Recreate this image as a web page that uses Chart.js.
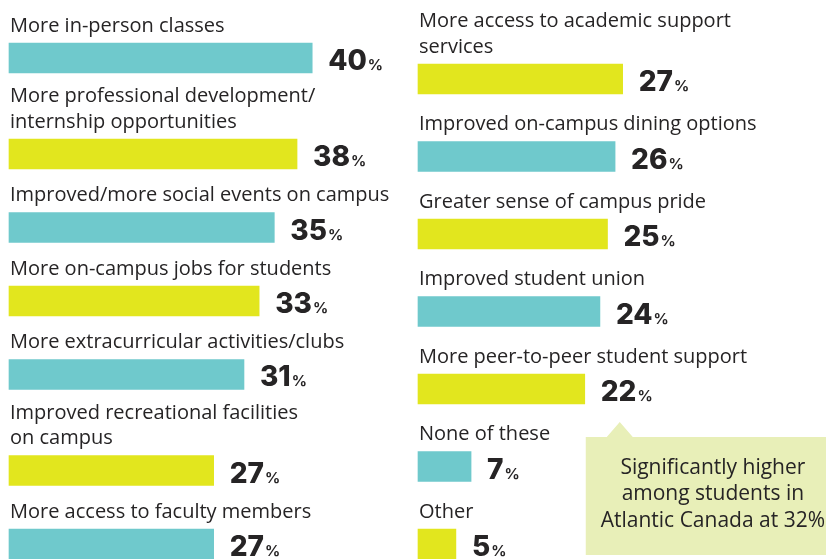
<!DOCTYPE html>
<html>
<head>
<meta charset="utf-8">
<script src="https://cdn.jsdelivr.net/npm/chart.js@4/dist/chart.umd.min.js"></script>
<style>
  html, body { margin: 0; padding: 0; background: #fff; }
  #wrap { position: relative; width: 826px; height: 559px; }
  #wrap canvas { position: absolute; left: 0; top: 0; }
</style>
</head>
<body>
<div id="wrap">
  <canvas id="leftChart" width="826" height="559"></canvas>
  <canvas id="rightChart" width="826" height="559"></canvas>
</div>
<script>
const leftLabels = [
  "More in-person classes",
  ["More professional development/", "internship opportunities"],
  "Improved/more social events on campus",
  "More on-campus jobs for students",
  "More extracurricular activities/clubs",
  ["Improved recreational facilities", "on campus"],
  "More access to faculty members"
];
const leftValues = [40, 38, 35, 33, 31, 27, 27];

const rightLabels = [
  ["More access to academic support", "services"],
  "Improved on-campus dining options",
  "Greater sense of campus pride",
  "Improved student union",
  "More peer-to-peer student support",
  "None of these",
  "Other"
];
const rightValues = [27, 26, 25, 24, 22, 7, 5];

const noteLines = ["Significantly higher", "among students in", "Atlantic Canada at 32%"];
const noteIndex = 4; // callout points at "More peer-to-peer student support"

const TEAL = "#6fc9cc";
const YELLOW = "#e2e61e";
const TEXT = "#262425";

// rows get taller when their label wraps onto two lines
function rowSlots(labels) {
  const slots = [];
  let pos = 0;
  labels.forEach((l, i) => {
    const n = Array.isArray(l) ? l.length : 1;
    if (i > 0) pos += 52 + 23 * n;
    slots.push(pos);
  });
  return slots;
}

/* ================= LABEL PLUGIN ================= */

const barLabels = {
  id: "barLabels",
  afterDatasetsDraw(chart, args, opts) {
    const ctx = chart.ctx;
    const meta = chart.getDatasetMeta(0);
    const labels = chart.data.labels;
    const values = chart.data.datasets[0].data.map(d => d.x);

    ctx.save();
    meta.data.forEach((bar, i) => {
      const { x, y, base, height } = bar.getProps(["x", "y", "base", "height"], true);
      const top = y - height / 2;
      const bottom = y + height / 2;

      // category text above the bar
      const lines = Array.isArray(labels[i]) ? labels[i] : [labels[i]];
      ctx.fillStyle = TEXT;
      ctx.font = "20px 'Open Sans'";
      ctx.textAlign = "left";
      ctx.textBaseline = "middle";
      lines.forEach((line, j) => {
        ctx.fillText(line, base + 1, top - 17 - (lines.length - 1 - j) * 25.5);
      });

      // value: big number + small %
      ctx.textBaseline = "alphabetic";
      ctx.font = "800 28px Inter";
      const num = String(values[i]);
      const nx = x + 16;
      ctx.fillText(num, nx, bottom - 3);
      const w = ctx.measureText(num).width;
      ctx.font = "700 15px Inter";
      ctx.fillText("%", nx + w + 1, bottom - 3);
    });

    // callout note
    if (opts.note) {
      const bar = meta.data[opts.noteIndex];
      const { x } = bar.getProps(["x"], true);
      const boxB = chart.chartArea.bottom + 11;
      const boxT = boxB - 118;
      const tipX = x + 35;
      const tipY = boxT - 15;
      const boxL = tipX - 34;
      const boxR = chart.width;

      ctx.fillStyle = "#e8efb8";
      ctx.beginPath();
      ctx.moveTo(boxL, boxT);
      ctx.lineTo(tipX - 13, boxT);
      ctx.lineTo(tipX, tipY);
      ctx.lineTo(tipX + 13, boxT);
      ctx.lineTo(boxR, boxT);
      ctx.lineTo(boxR, boxB);
      ctx.lineTo(boxL, boxB);
      ctx.closePath();
      ctx.fill();

      ctx.fillStyle = TEXT;
      ctx.font = "21px 'Open Sans'";
      ctx.textAlign = "center";
      ctx.textBaseline = "middle";
      const cx = (boxL + boxR) / 2 + 7;
      opts.note.forEach((line, j) => {
        ctx.fillText(line, cx, boxT + 31 + j * 26.5);
      });
    }
    ctx.restore();
  }
};

/* ================= COLUMN CHART ================= */

function renderColumn(id, labels, values, firstColor, padding, note) {
  const ctx = document.getElementById(id);
  const other = firstColor === TEAL ? YELLOW : TEAL;
  const colors = values.map((v, i) => (i % 2 === 0 ? firstColor : other));
  const slots = rowSlots(labels);

  new Chart(ctx, {
    type: "bar",
    data: {
      labels,
      datasets: [{
        data: values.map((v, i) => ({ x: v, y: slots[i] })),
        backgroundColor: colors,
        borderWidth: 0,
        barThickness: 30,
        clip: false
      }]
    },
    options: {
      indexAxis: "y",
      responsive: false,
      animation: false,
      layout: { padding },
      plugins: {
        legend: { display: false },
        tooltip: { enabled: false },
        barLabels: note ? { note, noteIndex } : {}
      },
      scales: {
        x: { type: "linear", min: 0, max: 50, display: false },
        y: {
          type: "linear",
          reverse: true,
          min: slots[0],
          max: slots[slots.length - 1],
          offset: false,
          display: false
        }
      }
    },
    plugins: [barLabels]
  });
}

renderColumn("leftChart", leftLabels, leftValues, TEAL,
  { left: 9, right: 438, top: 58, bottom: 15 }, null);
renderColumn("rightChart", rightLabels, rightValues, YELLOW,
  { left: 418, right: 29, top: 79, bottom: 15 }, noteLines);
</script>
</body>
</html>
